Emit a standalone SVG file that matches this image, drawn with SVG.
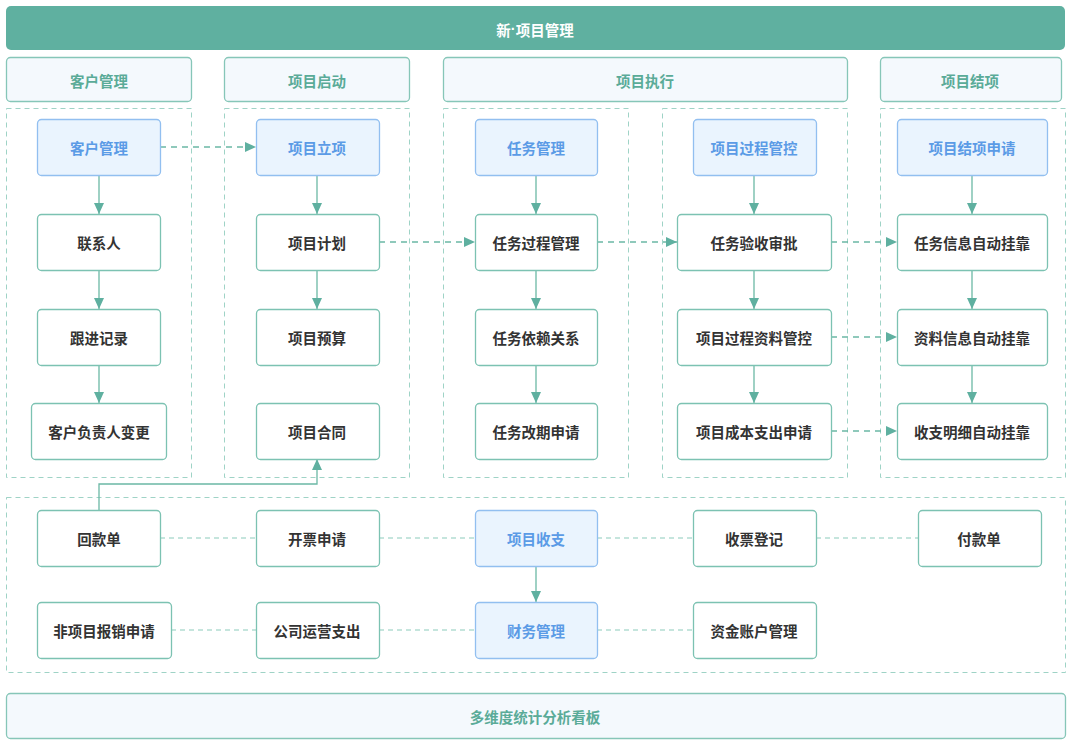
<svg xmlns="http://www.w3.org/2000/svg" width="1080" height="742" viewBox="0 0 1080 742">
<style>
text{font-family:"Noto Sans CJK SC","Noto Sans",sans-serif;font-weight:bold;text-anchor:middle;dominant-baseline:central;font-size:14.5px}
.n rect{fill:#fff;stroke:#7cc2b2;stroke-width:1.3}
.n text{fill:#333}
.b rect{fill:#eaf4fe;stroke:#92bff0;stroke-width:1.3}
.b text{fill:#5b9be6}
.h rect{fill:#f4f9fd;stroke:#86c6b8;stroke-width:1.3}
.h text{fill:#5aab98}
.c{fill:none;stroke:#9fd3c6;stroke-width:1;stroke-dasharray:5 4}
.s{fill:none;stroke:#6bb8a5;stroke-width:1.3}
.a{marker-end:url(#ar)}
.d{stroke-dasharray:6 5}
.dl{fill:none;stroke:#8ccbbc;stroke-width:1.2;stroke-dasharray:5 4}
</style>
<defs>
<marker id="ar" viewBox="0 0 10 10" refX="10" refY="5" markerWidth="11" markerHeight="10" markerUnits="userSpaceOnUse" orient="auto" preserveAspectRatio="none">
<path d="M0,0L10,5L0,10z" fill="#5fb0a0"/>
</marker>
</defs>
<rect width="1080" height="742" fill="#fff"/>
<g id="title"><rect x="6" y="6" width="1059" height="44" rx="5" fill="#5fb0a0"/><text x="535" y="29" fill="#fff" font-size="16">新<tspan font-family="Liberation Sans">·</tspan>项目管理</text></g>
<g id="h1" class="h"><rect x="6.5" y="57.5" width="185" height="44" rx="4"/><text x="99" y="80">客户管理</text></g>
<g id="h2" class="h"><rect x="224.5" y="57.5" width="185" height="44" rx="4"/><text x="317" y="80">项目启动</text></g>
<g id="h3" class="h"><rect x="443.5" y="57.5" width="404" height="44" rx="4"/><text x="645" y="80">项目执行</text></g>
<g id="h4" class="h"><rect x="880.5" y="57.5" width="181" height="44" rx="4"/><text x="970" y="80">项目结项</text></g>
<g id="containers">
<rect class="c" x="6.5" y="108.5" width="185" height="369"/>
<rect class="c" x="224.5" y="108.5" width="185" height="369"/>
<rect class="c" x="443.5" y="108.5" width="185" height="369"/>
<rect class="c" x="662.5" y="108.5" width="185" height="369"/>
<rect class="c" x="880.5" y="108.5" width="185" height="369"/>
<rect class="c" x="6.5" y="497.5" width="1059" height="175"/>
</g>
<g id="connectors">
<path class="s a" d="M99 175V214"/><path class="s a" d="M99 270V309"/><path class="s a" d="M99 365V403"/>
<path class="s a" d="M317 175V214"/><path class="s a" d="M317 270V309"/>
<path class="s a" d="M536 175V214"/><path class="s a" d="M536 270V309"/><path class="s a" d="M536 365V403"/>
<path class="s a" d="M754 175V214"/><path class="s a" d="M754 270V309"/><path class="s a" d="M754 365V403"/>
<path class="s a" d="M972 175V214"/><path class="s a" d="M972 270V309"/><path class="s a" d="M972 365V403"/>
<path class="s a d" d="M160 147H256"/>
<path class="s a d" d="M379 242H475"/>
<path class="s a d" d="M597 242H677"/>
<path class="s a d" d="M831 242H897"/>
<path class="s a d" d="M831 337H897"/>
<path class="s a d" d="M831 431H897"/>
<path class="s a" d="M99 510V484H317V459"/>
<path class="s a" d="M536 566V602"/>
<path class="dl" d="M160 538H256M379 538H475M597 538H693M816 538H918"/>
<path class="dl" d="M171 630H256M379 630H475M597 630H693"/>
</g>
<g id="n-kh" class="b"><rect x="37.5" y="119.5" width="123" height="56" rx="4"/><text x="99" y="147">客户管理</text></g>
<g id="n-lxr" class="n"><rect x="37.5" y="214.5" width="123" height="56" rx="4"/><text x="99" y="242">联系人</text></g>
<g id="n-gj" class="n"><rect x="37.5" y="309.5" width="123" height="56" rx="4"/><text x="99" y="337">跟进记录</text></g>
<g id="n-fzr" class="n"><rect x="31.5" y="403.5" width="135" height="56" rx="4"/><text x="99" y="431">客户负责人变更</text></g>
<g id="n-lx" class="b"><rect x="256.5" y="119.5" width="123" height="56" rx="4"/><text x="317" y="147">项目立项</text></g>
<g id="n-jh" class="n"><rect x="256.5" y="214.5" width="123" height="56" rx="4"/><text x="317" y="242">项目计划</text></g>
<g id="n-ys" class="n"><rect x="256.5" y="309.5" width="123" height="56" rx="4"/><text x="317" y="337">项目预算</text></g>
<g id="n-ht" class="n"><rect x="256.5" y="403.5" width="123" height="56" rx="4"/><text x="317" y="431">项目合同</text></g>
<g id="n-rw" class="b"><rect x="475.5" y="119.5" width="122" height="56" rx="4"/><text x="536" y="147">任务管理</text></g>
<g id="n-rwgc" class="n"><rect x="475.5" y="214.5" width="122" height="56" rx="4"/><text x="536" y="242">任务过程管理</text></g>
<g id="n-yl" class="n"><rect x="475.5" y="309.5" width="122" height="56" rx="4"/><text x="536" y="337">任务依赖关系</text></g>
<g id="n-gq" class="n"><rect x="475.5" y="403.5" width="122" height="56" rx="4"/><text x="536" y="431">任务改期申请</text></g>
<g id="n-gcgk" class="b"><rect x="693.5" y="119.5" width="123" height="56" rx="4"/><text x="754" y="147">项目过程管控</text></g>
<g id="n-ys2" class="n"><rect x="677.5" y="214.5" width="154" height="56" rx="4"/><text x="754" y="242">任务验收审批</text></g>
<g id="n-zl" class="n"><rect x="677.5" y="309.5" width="154" height="56" rx="4"/><text x="754" y="337">项目过程资料管控</text></g>
<g id="n-cb" class="n"><rect x="677.5" y="403.5" width="154" height="56" rx="4"/><text x="754" y="431">项目成本支出申请</text></g>
<g id="n-jx" class="b"><rect x="897.5" y="119.5" width="150" height="56" rx="4"/><text x="972" y="147">项目结项申请</text></g>
<g id="n-rwxx" class="n"><rect x="897.5" y="214.5" width="150" height="56" rx="4"/><text x="972" y="242">任务信息自动挂靠</text></g>
<g id="n-zlxx" class="n"><rect x="897.5" y="309.5" width="150" height="56" rx="4"/><text x="972" y="337">资料信息自动挂靠</text></g>
<g id="n-szmx" class="n"><rect x="897.5" y="403.5" width="150" height="56" rx="4"/><text x="972" y="431">收支明细自动挂靠</text></g>
<g id="n-hkd" class="n"><rect x="37.5" y="510.5" width="123" height="56" rx="4"/><text x="99" y="538">回款单</text></g>
<g id="n-kp" class="n"><rect x="256.5" y="510.5" width="123" height="56" rx="4"/><text x="317" y="538">开票申请</text></g>
<g id="n-sz" class="b"><rect x="475.5" y="510.5" width="122" height="56" rx="4"/><text x="536" y="538">项目收支</text></g>
<g id="n-sp" class="n"><rect x="693.5" y="510.5" width="123" height="56" rx="4"/><text x="754" y="538">收票登记</text></g>
<g id="n-fkd" class="n"><rect x="918.5" y="510.5" width="123" height="56" rx="4"/><text x="979" y="538">付款单</text></g>
<g id="n-bx" class="n"><rect x="37.5" y="602.5" width="134" height="56" rx="4"/><text x="104" y="630">非项目报销申请</text></g>
<g id="n-yy" class="n"><rect x="256.5" y="602.5" width="123" height="56" rx="4"/><text x="317" y="630">公司运营支出</text></g>
<g id="n-cw" class="b"><rect x="475.5" y="602.5" width="122" height="56" rx="4"/><text x="536" y="630">财务管理</text></g>
<g id="n-zj" class="n"><rect x="693.5" y="602.5" width="123" height="56" rx="4"/><text x="754" y="630">资金账户管理</text></g>
<g id="footer" class="h"><rect x="6.5" y="693.5" width="1059" height="45" rx="4"/><text x="535" y="716">多维度统计分析看板</text></g>
</svg>
